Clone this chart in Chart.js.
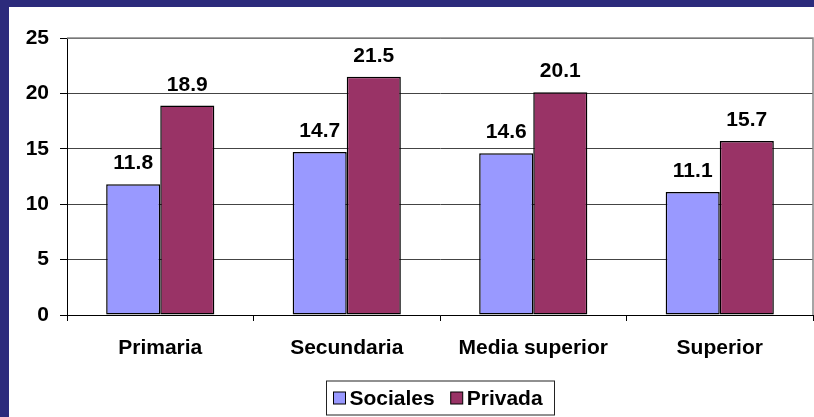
<!DOCTYPE html>
<html>
<head>
<meta charset="utf-8">
<script src="https://cdn.jsdelivr.net/npm/chart.js@4/dist/chart.umd.min.js"></script>
<style>
  html, body { margin: 0; padding: 0; }
  body { width: 814px; height: 417px; background: #2c2b7c; position: relative; overflow: hidden; }
  #wrap { position: absolute; left: 9px; top: 7px; width: 805px; height: 410px; background: #fff; }
</style>
</head>
<body>
<div id="wrap"><canvas id="chart"></canvas></div>
<script>
var categories = ['Primaria', 'Secundaria', 'Media superior', 'Superior'];
var sociales = [11.8, 14.7, 14.6, 11.1];
var privada = [18.9, 21.5, 20.1, 15.7];
var yTicks = [0, 5, 10, 15, 20, 25];

var FONT = '"Liberation Sans", Arial, sans-serif';

// value labels above each bar
var barLabels = {
    id: 'barLabels',
    afterDatasetsDraw: function(chart){
        var ctx = chart.ctx;
        ctx.save();
        ctx.font = 'bold 21px ' + FONT;
        ctx.fillStyle = '#000';
        ctx.textAlign = 'center';
        ctx.textBaseline = 'alphabetic';
        chart.data.datasets.forEach(function(ds, i){
            var meta = chart.getDatasetMeta(i);
            meta.data.forEach(function(bar, j){
                ctx.fillText(ds.data[j].toFixed(1), bar.x, bar.y - 15);
            });
        });
        ctx.restore();
    }
};

// gray frame on top / right of the plot area
var plotFrame = {
    id: 'plotFrame',
    afterDraw: function(chart){
        var a = chart.chartArea, ctx = chart.ctx;
        ctx.save();
        ctx.strokeStyle = '#888';
        ctx.lineWidth = 1.5;
        ctx.beginPath();
        ctx.moveTo(a.left, a.top);
        ctx.lineTo(a.right, a.top);
        ctx.lineTo(a.right, a.bottom);
        ctx.stroke();
        ctx.restore();
    }
};

// boxed legend under the chart
var boxLegend = {
    id: 'boxLegend',
    afterDraw: function(chart){
        var ctx = chart.ctx, a = chart.chartArea;
        var sq = 12, gap = 4, between = 16, padL = 7, padR = 12;
        ctx.save();
        ctx.font = 'bold 21px ' + FONT;
        var items = chart.data.datasets.map(function(ds){
            return { label: ds.label, color: ds.backgroundColor, w: ctx.measureText(ds.label).width };
        });
        var total = padL + padR;
        items.forEach(function(it, i){ total += sq + gap + it.w + (i > 0 ? between : 0); });
        var cx = (a.left + a.right) / 2;
        var cy = 391;
        var x = Math.round(cx - total / 2) + 0.5;
        ctx.strokeStyle = '#222';
        ctx.lineWidth = 1;
        ctx.strokeRect(x, cy - 17, Math.round(total), 34);
        var px = x + padL;
        ctx.textBaseline = 'middle';
        ctx.textAlign = 'left';
        items.forEach(function(it, i){
            if (i > 0) px += between;
            ctx.fillStyle = it.color;
            ctx.fillRect(px, cy - 6, sq, sq);
            ctx.strokeStyle = '#000';
            ctx.strokeRect(px, cy - 6, sq, sq);
            px += sq + gap;
            ctx.fillStyle = '#000';
            ctx.fillText(it.label, px, cy + 1);
            px += it.w;
        });
        ctx.restore();
    }
};

var chart = new Chart(document.getElementById('chart'), {
    type: 'bar',
    data: {
        labels: categories,
        datasets: [{
            label: 'Sociales',
            data: sociales,
            backgroundColor: '#9999ff',
            borderColor: '#000',
            borderWidth: 1.5,
            borderSkipped: false,
            barPercentage: 1,
            categoryPercentage: 0.58
        }, {
            label: 'Privada',
            data: privada,
            backgroundColor: '#993366',
            borderColor: '#000',
            borderWidth: 1.5,
            borderSkipped: false,
            barPercentage: 1,
            categoryPercentage: 0.58
        }]
    },
    options: {
        responsive: true,
        maintainAspectRatio: false,
        animation: false,
        layout: { padding: { top: 31, right: 1, left: 0, bottom: 0 } },
        plugins: {
            legend: { display: false },
            tooltip: { enabled: false }
        },
        scales: {
            x: {
                grid: {
                    offset: true,
                    drawOnChartArea: false,
                    tickLength: 6,
                    tickColor: '#000'
                },
                border: { color: '#000', width: 1 },
                ticks: {
                    color: '#000',
                    font: { family: FONT, size: 21, weight: 'bold' },
                    padding: 15,
                    maxRotation: 0
                },
                afterFit: function(scale){ scale.height = 102; }
            },
            y: {
                min: 0,
                max: 25,
                afterBuildTicks: function(scale){
                    scale.ticks = yTicks.map(function(v){ return { value: v }; });
                },
                grid: {
                    color: '#444',
                    tickColor: '#000',
                    tickLength: 7
                },
                border: { color: '#000', width: 1 },
                ticks: {
                    color: '#000',
                    font: { family: FONT, size: 21, weight: 'bold' },
                    padding: 11
                },
                afterFit: function(scale){ scale.width = 58; }
            }
        }
    },
    plugins: [barLabels, plotFrame, boxLegend]
});
</script>
</body>
</html>
